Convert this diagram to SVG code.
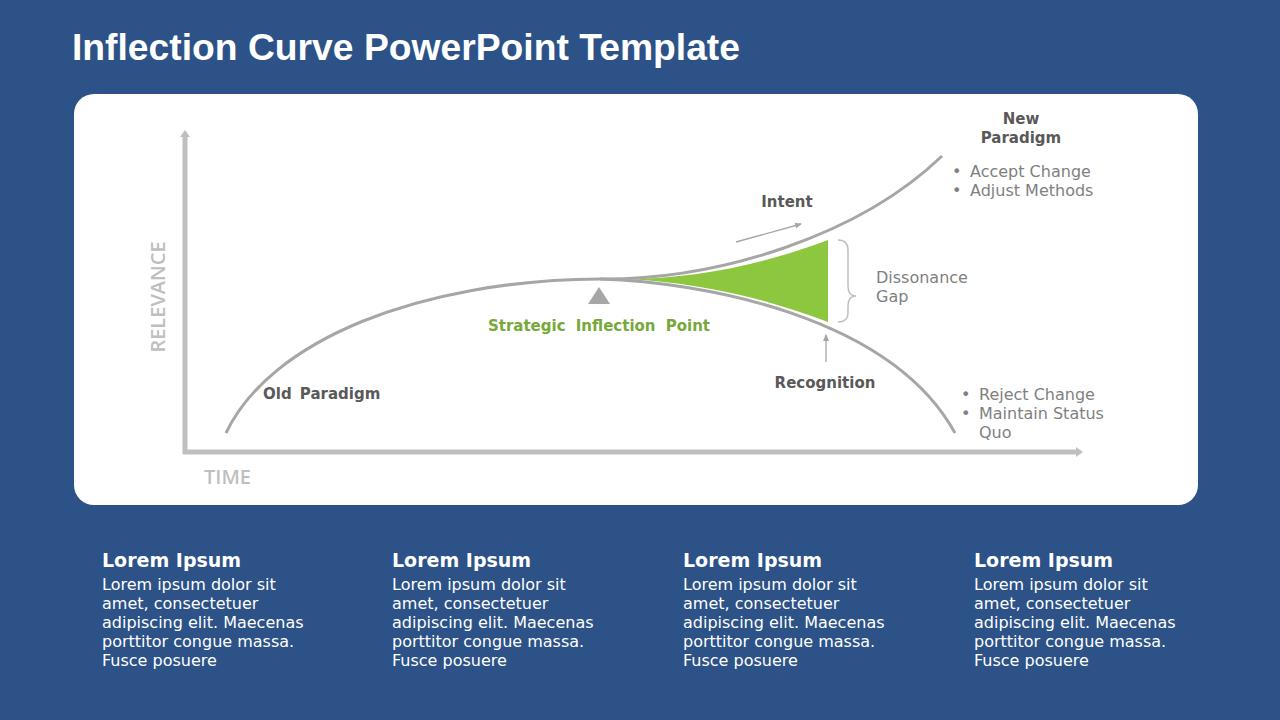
<svg xmlns="http://www.w3.org/2000/svg" width="1280" height="720" viewBox="0 0 1280 720">
<defs>
<marker id="ah" markerWidth="8" markerHeight="8" refX="6" refY="4" orient="auto" markerUnits="userSpaceOnUse"><path d="M0,1 L7,4 L0,7 Z" fill="#A6A6A6"/></marker>
<marker id="axh" markerWidth="12" markerHeight="12" refX="3" refY="6" orient="auto" markerUnits="userSpaceOnUse"><path d="M0,1 L7,6 L0,11 Z" fill="#BFBFBF"/></marker>
<style>
.t{font-family:"DejaVu Sans",Verdana,sans-serif}
.lbl{font-size:15px;font-weight:bold;fill:#595959}
.gr{font-size:16px;fill:#7F7F7F}
.ax{font-family:"Open Sans","Liberation Sans",sans-serif;font-size:20px;font-weight:600;fill:#BFBFBF}
.hd{font-size:19px;font-weight:bold;fill:#FFFFFF}
.bd{font-size:16px;fill:#FFFFFF}
.curve{fill:none;stroke:#A6A6A6;stroke-width:3}
</style>
</defs>
<rect width="1280" height="720" fill="#2C5287"/>
<text x="72" y="60" font-family="Liberation Sans,Arial,sans-serif" font-size="36" font-weight="bold" fill="#FFFFFF" textLength="668" lengthAdjust="spacingAndGlyphs">Inflection Curve PowerPoint Template</text>
<rect x="74" y="94" width="1124" height="411" rx="20" ry="20" fill="#FFFFFF"/>

<g id="axes">
<line x1="185" y1="454" x2="185" y2="134" stroke="#BFBFBF" stroke-width="5" marker-end="url(#axh)"/>
<line x1="183" y1="452" x2="1079" y2="452" stroke="#BFBFBF" stroke-width="5" marker-end="url(#axh)"/>
<text class="ax" transform="translate(165,297) rotate(-90)" text-anchor="middle">RELEVANCE</text>
<text class="ax" x="204" y="484">TIME</text>
</g>

<g id="gap-fill">
<path d="M625,279 C700,279 770,262 828,240 L828,322 C770,300 700,282 625,279 Z" fill="#8DC63F"/>
</g>

<g id="curves">
<path class="curve" d="M226,433 C270,340 420,280 600,279"/>
<path class="curve" d="M600,279 C720,280 860,235 942,156"/>
<path class="curve" d="M600,279 C700,282 890,315 955,433"/>
</g>

<g id="connectors">
<line x1="736" y1="242" x2="801" y2="224" stroke="#A6A6A6" stroke-width="1.3" marker-end="url(#ah)"/>
<line x1="826" y1="362" x2="826" y2="335" stroke="#A6A6A6" stroke-width="1.3" marker-end="url(#ah)"/>
</g>

<g id="inflection-point">
<polygon points="599,287 588,304 610,304" fill="#A6A6A6"/>
<text class="t" x="599" y="331" text-anchor="middle" font-size="15" font-weight="bold" fill="#77A93A" word-spacing="5">Strategic Inflection Point</text>
</g>

<g id="dissonance-gap">
<path d="M838,240 Q848,240 848,250 L848,286 Q848,296 856,296 Q848,296 848,306 L848,313 Q848,322 838,322" fill="none" stroke="#BFBFBF" stroke-width="1.5"/>
<text class="t gr" x="876" y="283">Dissonance</text>
<text class="t gr" x="876" y="302">Gap</text>
</g>

<g id="intent"><text class="t lbl" x="787" y="207" text-anchor="middle">Intent</text></g>
<g id="recognition"><text class="t lbl" x="825" y="388" text-anchor="middle">Recognition</text></g>
<g id="old-paradigm"><text class="t lbl" x="263" y="399" word-spacing="3">Old Paradigm</text></g>

<g id="new-paradigm">
<text class="t lbl" x="1021" y="124" text-anchor="middle" font-size="16">New</text>
<text class="t lbl" x="1021" y="143" text-anchor="middle" font-size="16">Paradigm</text>
<text class="t gr" x="952" y="177">•</text><text class="t gr" x="970" y="177">Accept Change</text>
<text class="t gr" x="952" y="196">•</text><text class="t gr" x="970" y="196">Adjust Methods</text>
</g>

<g id="reject">
<text class="t gr" x="961" y="400">•</text><text class="t gr" x="979" y="400">Reject Change</text>
<text class="t gr" x="961" y="419">•</text><text class="t gr" x="979" y="419">Maintain Status</text>
<text class="t gr" x="979" y="438">Quo</text>
</g>

<g id="col1">
<text class="t hd" x="102" y="567">Lorem Ipsum</text>
<text class="t bd" x="102" y="590">Lorem ipsum dolor sit</text>
<text class="t bd" x="102" y="609">amet, consectetuer</text>
<text class="t bd" x="102" y="628">adipiscing elit. Maecenas</text>
<text class="t bd" x="102" y="647">porttitor congue massa.</text>
<text class="t bd" x="102" y="666">Fusce posuere</text>
</g>
<g id="col2">
<text class="t hd" x="392" y="567">Lorem Ipsum</text>
<text class="t bd" x="392" y="590">Lorem ipsum dolor sit</text>
<text class="t bd" x="392" y="609">amet, consectetuer</text>
<text class="t bd" x="392" y="628">adipiscing elit. Maecenas</text>
<text class="t bd" x="392" y="647">porttitor congue massa.</text>
<text class="t bd" x="392" y="666">Fusce posuere</text>
</g>
<g id="col3">
<text class="t hd" x="683" y="567">Lorem Ipsum</text>
<text class="t bd" x="683" y="590">Lorem ipsum dolor sit</text>
<text class="t bd" x="683" y="609">amet, consectetuer</text>
<text class="t bd" x="683" y="628">adipiscing elit. Maecenas</text>
<text class="t bd" x="683" y="647">porttitor congue massa.</text>
<text class="t bd" x="683" y="666">Fusce posuere</text>
</g>
<g id="col4">
<text class="t hd" x="974" y="567">Lorem Ipsum</text>
<text class="t bd" x="974" y="590">Lorem ipsum dolor sit</text>
<text class="t bd" x="974" y="609">amet, consectetuer</text>
<text class="t bd" x="974" y="628">adipiscing elit. Maecenas</text>
<text class="t bd" x="974" y="647">porttitor congue massa.</text>
<text class="t bd" x="974" y="666">Fusce posuere</text>
</g>
</svg>
